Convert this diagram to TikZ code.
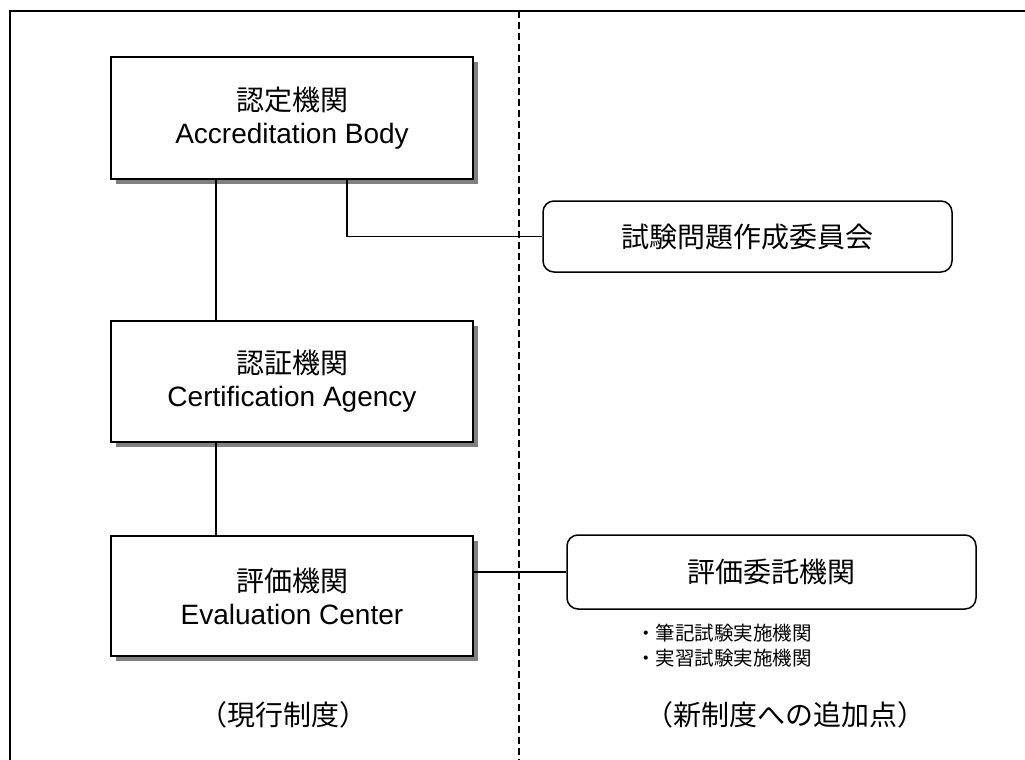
\documentclass[tikz,border=0pt]{standalone}
\usepackage{fontspec}
\setmainfont{Liberation Sans}
\newfontfamily\jp{Noto Sans CJK JP}
\usetikzlibrary{shadows}
\begin{document}
\begin{tikzpicture}[x=1pt, y=-1pt,
  orgbox/.style={draw, line width=2pt, fill=white, minimum width=362pt,
    minimum height=121pt, align=center, inner sep=0pt,
    font=\fontsize{28}{33}\selectfont,
    drop shadow={shadow xshift=5pt, shadow yshift=-5pt, fill=black!50, opacity=1}},
  addbox/.style={draw, line width=1.5pt, rounded corners=11pt, fill=white,
    minimum width=409pt, minimum height=72pt, inner sep=0pt,
    font=\jp\fontsize{28}{33}\selectfont},
  link/.style={line width=1.3pt},
  frame/.style={line width=2pt},
  divider/.style={line width=1.5pt, dash pattern=on 7pt off 4pt},
  note/.style={inner sep=0pt, anchor=west, font=\jp\fontsize{19.5}{24}\selectfont},
  caption/.style={inner sep=0pt, font=\jp\fontsize{28}{33}\selectfont}]
\useasboundingbox (0,0) rectangle (1025,760);

% outer frame and the dashed divider between the two systems
\coordinate (fbl) at (10,760);
\coordinate (ftl) at (10,11);
\coordinate (ftr) at (1025,11);
\draw[frame] (fbl) -- (ftl) -- (ftr);
\coordinate (dtop) at (519,11);
\coordinate (dbot) at (519,760);
\draw[divider] (dtop) -- (dbot);

% current system
\node[orgbox] (box1) at (292,118) {{\jp 認定機関}\\Accreditation Body};
\node[orgbox] (box2) at (292,381.5) {{\jp 認証機関}\\Certification Agency};
\node[orgbox, minimum height=120pt] (box3) at (292,596) {{\jp 評価機関}\\Evaluation Center};

% additions in the new system
\node[addbox, minimum height=71pt] (rb1) at (747.5,236.5) {試験問題作成委員会};
\node[addbox, minimum height=74pt] (rb2) at (771.5,572) {評価委託機関};
\node[note] (n1) at (636,633) {・筆記試験実施機関};
\node[note] (n2) at (636,658) {・実習試験実施機関};

% connectors
\coordinate (trunk) at (216,0);
\coordinate (branch) at (347,0);
\draw[link] (box1.south -| trunk) -- (box2.north -| trunk);
\draw[link] (box2.south -| trunk) -- (box3.north -| trunk);
\draw[link] (box1.south -| branch) |- (rb1.west);
\draw[link] (box3.east |- rb2.west) -- (rb2.west);

% column captions
\node[caption] (c1) at (283,715) {（現行制度）};
\node[caption] (c2) at (785,715) {（新制度への追加点）};
\end{tikzpicture}
\end{document}
